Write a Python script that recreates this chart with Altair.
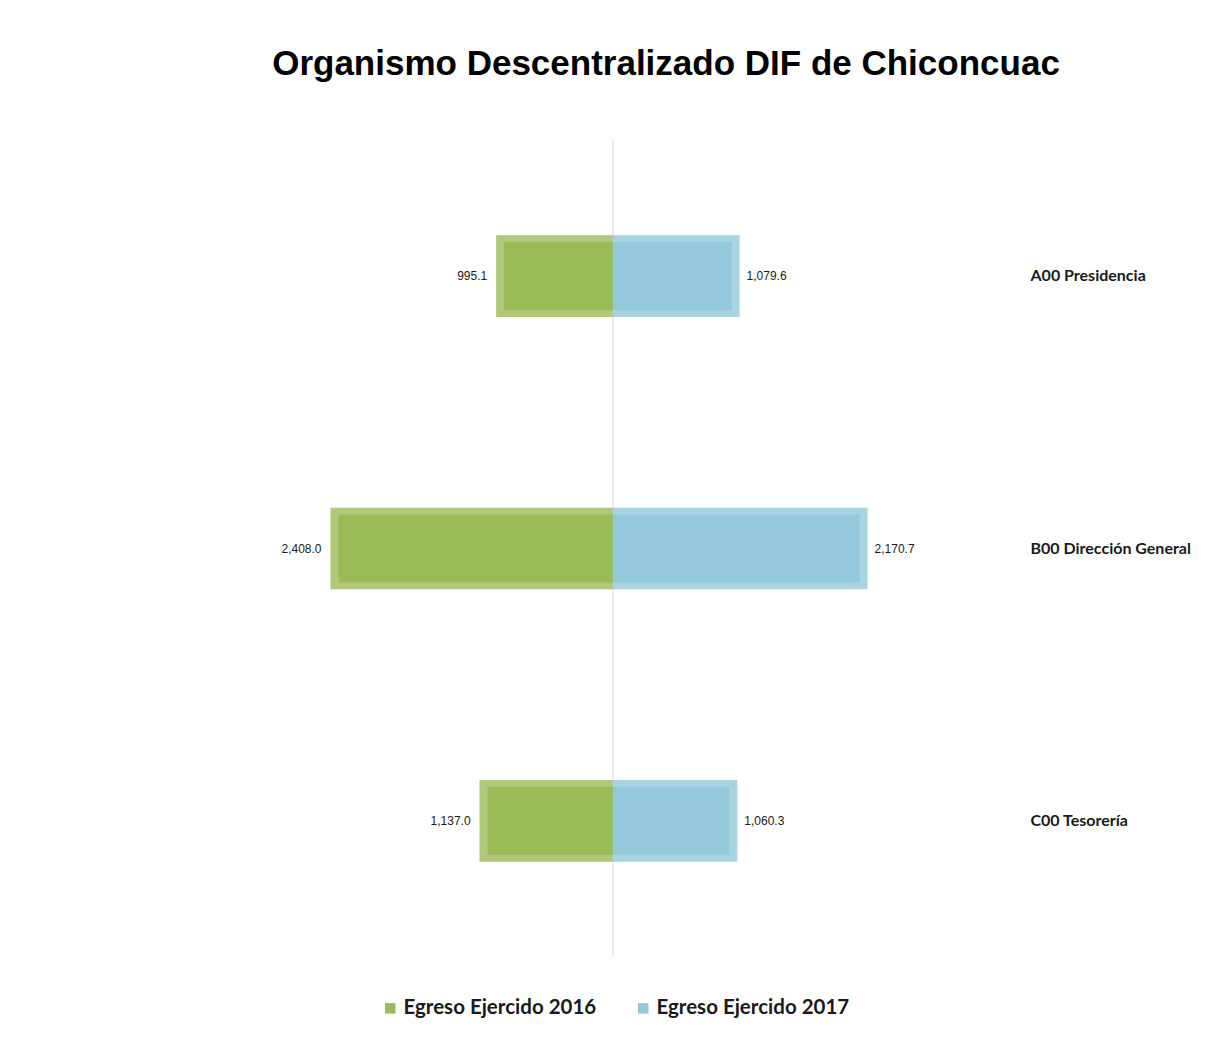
import altair as alt
import pandas as pd

categories = ["A00 Presidencia", "B00 Dirección General", "C00 Tesorería"]
egreso_2016 = [995.1, 2408.0, 1137.0]
egreso_2017 = [1079.6, 2170.7, 1060.3]
series_names = ["Egreso Ejercido 2016", "Egreso Ejercido  2017"]
colors = ["#9BBB59", "#93C9DA"]

rows = []
for c, a, b in zip(categories, egreso_2016, egreso_2017):
    rows.append({"cat": c, "serie": series_names[0], "valor": a, "x": -a, "x0": 0, "side": "L"})
    rows.append({"cat": c, "serie": series_names[1], "valor": b, "x": b, "x0": 0, "side": "R"})
df = pd.DataFrame(rows)

xscale = alt.Scale(domain=[-4970, 3300], nice=False, zero=False)
yscale = alt.Scale(domain=categories, paddingInner=0.7, paddingOuter=0.35)
cscale = alt.Scale(domain=series_names, range=colors)

base = alt.Chart(df)

rule = base.transform_aggregate(x0="min(x0)").mark_rule(
    color="#d9d9d9", strokeWidth=1
).encode(x=alt.X("x0:Q", scale=xscale, axis=None))

legend = alt.Legend(orient="none", legendX=350, legendY=858,
                    direction="horizontal", title=None,
                    symbolType="square", symbolSize=110,
                    labelFont="Lato", labelFontWeight="bold", labelFontSize=20.5,
                    labelColor="#1a1a1a", columnPadding=36,
                    labelOffset=3, labelLimit=400)

edge = base.mark_bar().encode(
    x=alt.X("x:Q", scale=xscale, axis=None),
    x2="x0:Q",
    y=alt.Y("cat:N", scale=yscale,
            axis=alt.Axis(orient="right", title=None, ticks=False, domain=False,
                          labelPadding=30, labelAlign="left", labelFont="Lato",
                          labelFontWeight="bold", labelFontSize=16, labelColor="#1a1a1a",
                          grid=False)),
    color=alt.Color("serie:N", scale=cscale, legend=legend),
)

shine = base.mark_bar(color="#ffffff", opacity=0.2).encode(
    x=alt.X("x:Q", scale=xscale, axis=None),
    x2="x0:Q",
    y=alt.Y("cat:N", scale=yscale),
)

inner = base.transform_calculate(
    xi="datum.x < 0 ? datum.x + 68 : datum.x - 68"
).mark_bar(height=68).encode(
    x=alt.X("xi:Q", scale=xscale, axis=None),
    x2="x0:Q",
    y=alt.Y("cat:N", scale=yscale),
    color=alt.Color("serie:N", scale=cscale, legend=legend),
)

labels_left = base.transform_filter(alt.datum.side == "L").mark_text(
    align="right", baseline="middle", dx=-9,
    font="Liberation Sans", fontSize=12, color="#1a1a1a"
).encode(
    x=alt.X("x:Q", scale=xscale),
    y=alt.Y("cat:N", scale=yscale),
    text=alt.Text("valor:Q", format=",.1f"),
)

labels_right = base.transform_filter(alt.datum.side == "R").mark_text(
    align="left", baseline="middle", dx=7,
    font="Liberation Sans", fontSize=12, color="#1a1a1a"
).encode(
    x=alt.X("x:Q", scale=xscale),
    y=alt.Y("cat:N", scale=yscale),
    text=alt.Text("valor:Q", format=",.1f"),
)

chart = alt.layer(rule, edge, shine, inner, labels_left, labels_right).properties(
    width=970,
    height=817,
    padding={"left": 22, "top": 38, "right": 5, "bottom": 5},
    title=alt.TitleParams(
        "Organismo Descentralizado DIF de Chiconcuac",
        font="Liberation Sans", fontSize=35, fontWeight="bold", color="#000000",
        anchor="middle", dx=151, offset=58,
    ),
).configure_view(strokeWidth=0)

chart.save("out.html", embed_options={"renderer": "svg", "actions": False})
